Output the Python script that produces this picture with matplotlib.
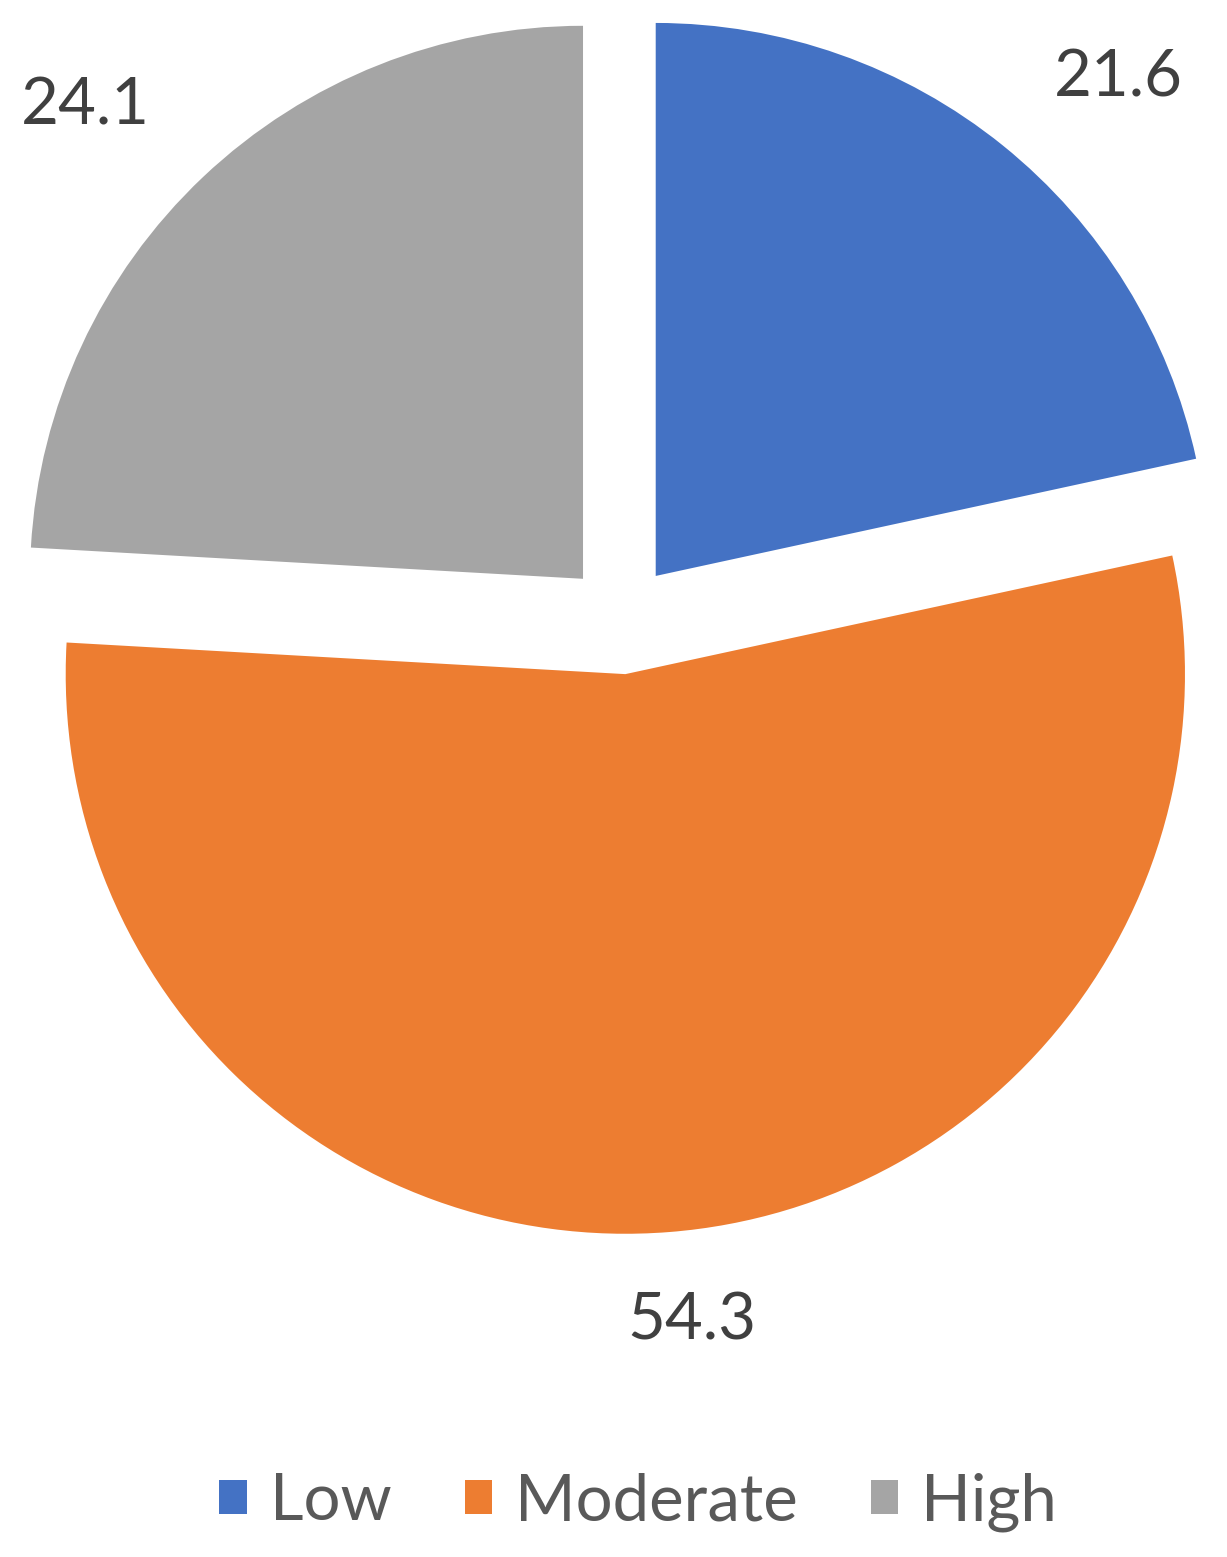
from matplotlib import pyplot as plt

# Data
CATEGORIES = ["Low", "Moderate", "High"]
VALUES = [21.6, 54.3, 24.1]
COLORS = ["#4472C4", "#ED7D31", "#A5A5A5"]

# Layout (pixels of a 1227x1557 image)
FIG_W, FIG_H = 1227, 1557
DPI = 100
CENTER_PX = (621, 619)
RADIUS_PX = 553
EXPLODE = 0.1
# Excel "best fit" label spots, in pie-radius units from the pie centre
LABEL_POS = [(0.899, 0.978), (0.128, -1.270), (-0.969, 0.927)]

plt.rcParams["font.family"] = ["Lato", "DejaVu Sans"]

fig = plt.figure(figsize=(FIG_W / DPI, FIG_H / DPI), dpi=DPI)
ax = fig.add_axes([0, 0, 1, 1])

wedges, _, autotexts = ax.pie(
    VALUES,
    colors=COLORS,
    startangle=90,
    counterclock=False,
    explode=[EXPLODE] * len(VALUES),
    autopct="%.1f",
    pctdistance=1.22,
    textprops={"fontsize": 47, "color": "#404040"},
    wedgeprops={"linewidth": 0},
)

# the big slice is drawn a touch larger in the original
wedges[1].set_radius(1.012)

for txt, pos in zip(autotexts, LABEL_POS):
    txt.set_position(pos)

# Map data units onto pixels: radius 1 == RADIUS_PX
ax.set_xlim(-CENTER_PX[0] / RADIUS_PX, (FIG_W - CENTER_PX[0]) / RADIUS_PX)
ax.set_ylim(-(FIG_H - CENTER_PX[1]) / RADIUS_PX, CENTER_PX[1] / RADIUS_PX)
ax.set_aspect("auto")
ax.axis("off")

fig.legend(
    wedges, CATEGORIES,
    loc="center", bbox_to_anchor=(0.52, 1 - 1502 / FIG_H),
    ncol=3, frameon=False, fontsize=47,
    handlelength=0.42, handleheight=0.42, handletextpad=0.35,
    columnspacing=1.12, labelcolor="#595959",
)

fig.savefig("out.png", dpi=DPI)
